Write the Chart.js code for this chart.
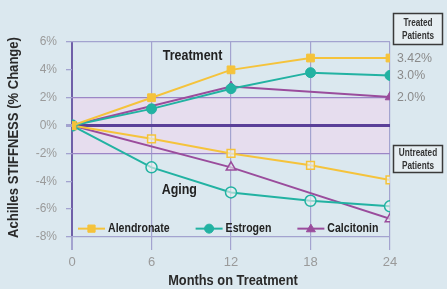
<!DOCTYPE html>
<html>
<head>
<meta charset="utf-8">
<script src="https://cdn.jsdelivr.net/npm/chart.js@4"></script>
<style>
  html, body { margin: 0; padding: 0; background: #dbe8ef; }
  canvas { display: block; }
</style>
</head>
<body>
<canvas id="stiffChart" width="447" height="289"></canvas>
<script>
// months on treatment
const months = [0, 6, 12, 18, 24];
const drugNames = ['Alendronate', 'Estrogen', 'Calcitonin'];

// treated patients (% change)
const alendronateTreated = [0, 2.0, 4.0, 4.85, 4.85];
const estrogenTreated = [0, 1.2, 2.65, 3.8, 3.6];
const calcitoninTreated = [0, null, 2.8, null, 2.05];

// untreated patients (% change)
const alendronateUntreated = [0, -0.95, -2.0, -2.85, -3.9];
const estrogenUntreated = [0, -3.0, -4.8, -5.4, -5.8];
const calcitoninUntreated = [0, null, -3.0, null, -6.7];

const endLabels = ['3.42%', '3.0%', '2.0%'];
const yTicks = [-8, -6, -4, -2, 0, 2, 4, 6];

const colors = ['#f5c33b', '#22b2a2', '#9a4c9c'];
const markers = ['rect', 'circle', 'triangle'];
const sans = "'Liberation Sans', Arial, sans-serif";

function pts(arr) {
    return arr.map((v, i) => ({ x: months[i], y: v }));
}

const treated = [alendronateTreated, estrogenTreated, calcitoninTreated];
const untreated = [alendronateUntreated, estrogenUntreated, calcitoninUntreated];

const datasets = [];
treated.forEach((arr, i) => {
    datasets.push({
        label: drugNames[i],
        data: pts(arr),
        borderColor: colors[i],
        backgroundColor: colors[i],
        borderWidth: 2,
        pointStyle: markers[i],
        pointRadius: i == 1 ? 5 : 5.5,
        pointBorderWidth: 1,
        spanGaps: true
    });
});
untreated.forEach((arr, i) => {
    datasets.push({
        label: drugNames[i] + ' (untreated)',
        data: pts(arr),
        borderColor: colors[i],
        backgroundColor: 'rgba(235,240,240,0.6)',
        borderWidth: 2,
        pointStyle: markers[i],
        pointRadius: 5.5,
        pointBorderWidth: 1.5,
        spanGaps: true
    });
});

// texte resserré horizontalement (pas de police étroite installée)
function narrowText(c, text, x, y, k, rot) {
    c.save();
    c.translate(x, y);
    if (rot) c.rotate(rot);
    c.scale(k, 1);
    c.fillText(text, 0, 0);
    c.restore();
    return c.measureText(text).width * k;
}

// fond + bande -2%..2%
const bgPlugin = {
    id: 'bgPlugin',
    beforeDraw(chart) {
        const c = chart.ctx, a = chart.chartArea, y = chart.scales.y;
        c.save();
        c.fillStyle = '#dbe8ef';
        c.fillRect(0, 0, chart.width, chart.height);
        c.fillStyle = '#e6ddee';
        const top = y.getPixelForValue(2), bot = y.getPixelForValue(-2);
        c.fillRect(a.left, top, a.right - a.left, bot - top);
        c.restore();
    }
};

function drawMarker(c, style, x, y, r, fill, stroke) {
    c.fillStyle = fill;
    c.strokeStyle = stroke;
    c.beginPath();
    if (style == 'rect') {
        c.rect(x - r * 0.8, y - r * 0.8, r * 1.6, r * 1.6);
    } else if (style == 'circle') {
        c.arc(x, y, r, 0, Math.PI * 2);
    } else {
        c.moveTo(x, y - r);
        c.lineTo(x + r, y + r * 0.7);
        c.lineTo(x - r, y + r * 0.7);
        c.closePath();
    }
    c.fill();
    c.stroke();
}

// textes, titres d'axes, légende, encadrés
const textPlugin = {
    id: 'textPlugin',
    afterDraw(chart) {
        const c = chart.ctx, a = chart.chartArea, xs = chart.scales.x, ys = chart.scales.y;
        c.save();
        c.textBaseline = 'middle';
        c.textAlign = 'center';

        // titres d'axes
        c.fillStyle = '#2a2a2a';
        c.font = 'bold 15px ' + sans;
        narrowText(c, 'Months on Treatment', (a.left + a.right) / 2 + 2, 281, 0.855);
        narrowText(c, 'Achilles STIFFNESS (% Change)', 14, (a.top + a.bottom) / 2 - 2, 0.87, -Math.PI / 2);

        c.fillStyle = '#222';
        c.font = 'bold 14px ' + sans;
        narrowText(c, 'Treatment', xs.getPixelForValue(9.1), ys.getPixelForValue(4.95), 0.89);
        narrowText(c, 'Aging', xs.getPixelForValue(8.1), ys.getPixelForValue(-4.6), 0.89);

        // valeurs en bout de courbe
        c.textAlign = 'left';
        c.font = '13px ' + sans;
        c.fillStyle = '#8a8a8a';
        treated.forEach((arr, i) => {
            const v = arr[arr.length - 1];
            narrowText(c, endLabels[i], xs.getPixelForValue(24) + 7, ys.getPixelForValue(v), 0.95);
        });

        // légende dans la zone du graphique
        let lx = xs.getPixelForValue(0) + 6;
        const ly = ys.getPixelForValue(-7.4);
        c.font = 'bold 12px ' + sans;
        drugNames.forEach((name, i) => {
            c.strokeStyle = colors[i];
            c.lineWidth = 2;
            c.beginPath();
            c.moveTo(lx, ly);
            c.lineTo(lx + 27, ly);
            c.stroke();
            c.lineWidth = 1;
            drawMarker(c, markers[i], lx + 13.5, ly, 4.5, colors[i], colors[i]);
            c.fillStyle = '#222';
            const w = narrowText(c, name, lx + 30, ly + 0.5, 0.88);
            lx += 30 + w + 26;
        });

        // encadrés
        function box(x, y, w, h, l1, l2) {
            c.fillStyle = '#e6eef2';
            c.fillRect(x, y, w, h);
            c.strokeStyle = '#3a3a3a';
            c.lineWidth = 1.5;
            c.strokeRect(x, y, w, h);
            c.fillStyle = '#333';
            c.font = 'bold 10px ' + sans;
            c.textAlign = 'center';
            narrowText(c, l1, x + w / 2, y + h / 2 - 6, 0.82);
            narrowText(c, l2, x + w / 2, y + h / 2 + 7, 0.82);
        }
        box(393.5, 13.5, 49, 31, 'Treated', 'Patients');
        box(393.5, 145.5, 49, 27, 'Untreated', 'Patients');
        c.restore();
    }
};

new Chart(document.getElementById('stiffChart'), {
    type: 'line',
    data: { datasets: datasets },
    options: {
        responsive: false,
        animation: false,
        layout: { padding: { top: 42, right: 57, left: 0, bottom: 0 } },
        plugins: {
            legend: { display: false },
            tooltip: { enabled: false }
        },
        scales: {
            x: {
                type: 'linear',
                min: 0,
                max: 24,
                afterFit: s => { s.height = 52; },
                ticks: { stepSize: 6, color: '#9a9a9a', font: { size: 13, family: sans }, padding: 5 },
                grid: {
                    color: ctx => ctx.tick.value === 0 ? '#6f5fa8' : '#a3a3cf',
                    tickColor: '#a3a3cf',
                    lineWidth: ctx => ctx.tick.value === 0 ? 2 : 1.2,
                    tickLength: 13
                },
                border: { display: false }
            },
            y: {
                min: -8,
                max: 6,
                afterFit: s => { s.width = 72; },
                afterBuildTicks: s => {
                    const t = [];
                    for (let v = -8; v <= 6; v++) t.push({ value: v });
                    s.ticks = t;
                },
                ticks: {
                    color: '#9a9a9a',
                    font: { size: 12, family: sans },
                    padding: 9,
                    callback: v => yTicks.includes(v) ? v + '%' : ''
                },
                grid: {
                    color: ctx => {
                        const v = ctx.tick.value;
                        if (v === 0) return '#5a3f98';
                        if (v === 2 || v === -2) return '#9c86c6';
                        if (v === 6 || v === -8) return '#a3a3cf';
                        return 'rgba(0,0,0,0)';
                    },
                    lineWidth: ctx => ctx.tick.value === 0 ? 3 : 1.3,
                    tickColor: '#a3a3cf',
                    tickLength: 6
                },
                border: { display: false }
            }
        }
    },
    plugins: [bgPlugin, textPlugin]
});
</script>
</body>
</html>
